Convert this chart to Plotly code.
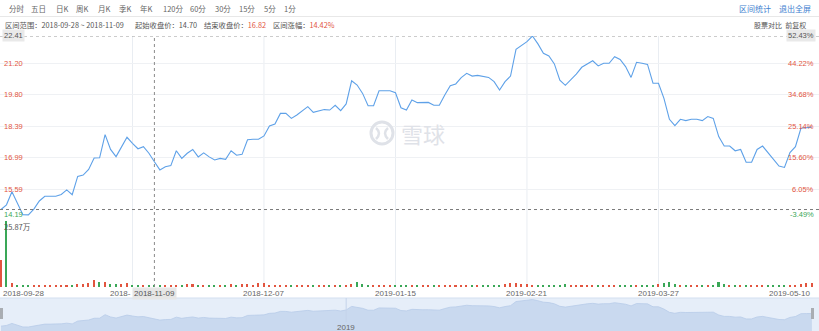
import plotly.graph_objects as go

W, H = 819, 331

# ---------------- data ----------------
prices = [
    14.70, 14.91, 15.49, 14.97, 14.47, 14.46, 14.72, 15.08, 15.29, 15.29,
    15.29, 15.37, 15.57, 15.36, 16.17, 16.23, 16.48, 16.99, 17.00, 18.03,
    17.37, 17.05, 17.49, 17.91, 17.64, 17.40, 17.49, 17.20, 16.82, 16.46,
    16.60, 16.65, 17.31, 16.97, 17.20, 17.37, 17.04, 17.22, 17.04, 16.90,
    16.97, 16.93, 17.31, 17.11, 17.15, 17.80, 17.82, 17.82, 17.97, 18.41,
    18.50, 18.97, 18.97, 18.75, 18.90, 19.09, 19.27, 19.02, 19.09, 19.14,
    19.12, 19.33, 19.09, 19.39, 20.42, 20.23, 19.86, 19.31, 19.31, 19.98,
    19.98, 19.98, 19.89, 19.22, 19.12, 19.57, 19.45, 19.45, 19.46, 19.33,
    19.33, 19.79, 20.20, 20.28, 20.56, 20.75, 20.63, 20.66, 20.63, 20.57,
    20.38, 20.01, 20.38, 20.63, 21.82, 21.98, 22.16, 22.41, 22.06, 21.64,
    21.52, 21.17, 20.45, 20.22, 20.45, 20.72, 21.02, 21.17, 21.31, 21.08,
    21.20, 21.20, 21.49, 21.37, 21.05, 20.57, 21.24, 21.20, 21.15, 20.31,
    20.31, 19.64, 18.71, 18.43, 18.71, 18.65, 18.71, 18.71, 18.65, 18.83,
    18.75, 17.94, 17.52, 17.52, 17.31, 17.37, 16.80, 16.80, 17.37, 17.52,
    17.23, 16.93, 16.63, 16.57, 17.23, 17.49, 18.31, 18.34, 18.36,
]

# volume in 万 shares
volumes = [
    10.6, 25.87, 1.6, 0.5, 0.6, 0.4, 0.5, 0.6, 0.5, 0.6,
    0.5, 0.6, 0.5, 0.7, 1.0, 1.2, 1.5, 2.8, 2.0, 2.0,
    1.2, 1.2, 1.2, 1.5, 0.5, 0.4, 0.5, 0.4, 0.6, 0.5,
    0.6, 0.5, 0.7, 0.6, 1.0, 1.0, 0.6, 0.5, 0.7, 0.6,
    0.5, 0.7, 1.2, 0.6, 1.0, 1.2, 0.8, 1.6, 1.4, 0.9,
    0.6, 0.8, 0.7, 0.6, 0.8, 0.6, 0.5, 0.7, 0.6, 0.5,
    0.6, 0.5, 0.8, 0.9, 1.2, 1.8, 1.2, 0.7, 0.6, 0.6,
    0.5, 0.6, 0.5, 0.6, 0.7, 0.6, 0.5, 0.6, 0.5, 0.6,
    0.5, 0.7, 0.8, 0.6, 0.7, 0.6, 0.5, 0.6, 0.5, 0.6,
    0.5, 0.7, 1.0, 1.4, 1.6, 1.2, 1.0, 0.8, 0.9, 0.7,
    0.6, 0.5, 0.8, 1.2, 0.6, 0.5, 0.6, 0.7, 0.6, 0.5,
    0.6, 0.5, 0.6, 0.5, 0.7, 0.8, 0.6, 0.5, 0.6, 0.9,
    1.0, 1.4, 2.0, 1.2, 0.8, 0.7, 0.6, 0.7, 0.6, 0.5,
    0.6, 1.8, 1.2, 0.8, 0.7, 0.6, 0.8, 0.7, 0.6, 0.5,
    0.6, 0.7, 0.8, 0.6, 0.7, 0.9, 1.2, 1.5, 1.4,
]

# day direction (1 = up / red, 0 = down / green), as coloured in the picture
day_up = [1 if i == 0 or prices[i] >= prices[i - 1] else 0 for i in range(len(prices))]
day_up[1] = 0
day_up[18] = 0

first_date = "2018-09-28"
last_date = "2019-05-10"
grid_idx = [24, 48, 72, 96, 120]
grid_dates = ["2018-11-05", "2018-12-07", "2019-01-15", "2019-02-21", "2019-03-27"]
sel_idx = 28
sel_date = "2018-11-09"
year_idx = 63
year_label = "2019"

price_ticks = [14.19, 15.59, 16.99, 18.39, 19.80, 21.20, 22.41]
pct_ticks = ["-3.49%", "6.05%", "15.60%", "25.14%", "34.68%", "44.22%", "52.43%"]
base_price = 14.70
end_price = 16.82
range_pct = "14.42%"
vol_max_label = "25.87万"

tabs = ["分时", "五日", "日K", "周K", "月K", "季K", "年K", "120分", "60分", "30分", "15分", "5分", "1分"]

# ---------------- style ----------------
RED = "#e2553f"
GREEN = "#3aa757"
LINE = "#5ea1e8"
GRAY = "#666666"
FONT = "Liberation Sans, Arial, Noto Sans CJK SC"
CJK = "Noto Sans CJK SC, Liberation Sans"


def py(p):
    return 1 - p / H


def px(p):
    return p / W


n = len(prices)
xs = list(range(n))
bar_colors = [RED if u else GREEN for u in day_up]

fig = go.Figure()
fig.add_trace(go.Scatter(x=xs, y=prices, mode="lines", line=dict(color=LINE, width=1.1),
                         yaxis="y", hoverinfo="skip"))
fig.add_trace(go.Bar(x=xs, y=volumes, marker=dict(color=bar_colors, line=dict(width=0)),
                     width=0.28, yaxis="y2", hoverinfo="skip"))
fig.add_trace(go.Scatter(x=xs, y=prices, mode="lines", fill="tozeroy",
                         fillcolor="#c9d9ef", line=dict(color="#b8cce8", width=0.8),
                         yaxis="y3", hoverinfo="skip"))

shapes = []
annotations = []

# header separator
shapes.append(dict(type="line", xref="paper", yref="paper", x0=0, x1=1, y0=py(16.5), y1=py(16.5),
                   line=dict(color="#e8e8e8", width=1)))
# navigator background
shapes.append(dict(type="rect", xref="paper", yref="paper", x0=0, x1=1, y0=0, y1=py(298),
                   fillcolor="#e6eef9", line=dict(width=0), layer="below"))
shapes.append(dict(type="line", xref="paper", yref="paper", x0=0, x1=1, y0=py(298), y1=py(298),
                   line=dict(color="#d3dff0", width=1)))
# vertical grid
for gi in grid_idx:
    shapes.append(dict(type="line", xref="x", yref="paper", x0=gi, x1=gi, y0=py(287), y1=py(36),
                       line=dict(color="#e9edf2", width=1), layer="below"))
# year divider in navigator
shapes.append(dict(type="line", xref="x", yref="paper", x0=year_idx, x1=year_idx, y0=py(322), y1=py(298),
                   line=dict(color="#c4d3ea", width=1)))
# base and max dotted lines
shapes.append(dict(type="line", xref="paper", yref="y", x0=0, x1=1, y0=max(price_ticks), y1=max(price_ticks),
                   line=dict(color="#9a9a9a", width=1, dash="dot")))
shapes.append(dict(type="line", xref="paper", yref="y", x0=0, x1=1, y0=base_price, y1=base_price,
                   line=dict(color="#7a7a7a", width=1, dash="dot")))
shapes.append(dict(type="line", xref="x", yref="paper", x0=sel_idx, x1=sel_idx, y0=py(287), y1=py(36),
                   line=dict(color="#8a8a8a", width=1, dash="dot")))
# navigator handles
for hx in (1.5, 812.5):
    shapes.append(dict(type="rect", xref="paper", yref="paper", x0=px(hx - 1.5), x1=px(hx + 1.5),
                       y0=py(319), y1=py(308), fillcolor="#a9adb3", line=dict(width=0)))
# watermark logo
shapes.append(dict(type="circle", xref="paper", yref="paper", x0=px(371), x1=px(393), y0=py(144), y1=py(122),
                   line=dict(color="#dfe2e8", width=3)))
shapes.append(dict(type="path", xref="paper", yref="paper",
                   path=f"M {px(376)} {py(128)} Q {px(382)} {py(133)} {px(376)} {py(139)} "
                        f"M {px(388)} {py(128)} Q {px(382)} {py(133)} {px(388)} {py(139)}",
                   line=dict(color="#dfe2e8", width=2.5)))
annotations.append(dict(xref="paper", yref="paper", x=px(399), y=py(133), xanchor="left", yanchor="middle",
                        text="雪球", showarrow=False, font=dict(family=CJK, size=22, color="#dfe2e8")))

# price labels (left) and percentage labels (right)
for i, (p, t) in enumerate(zip(price_ticks, pct_ticks)):
    top = i == len(price_ticks) - 1
    bottom = p < base_price
    col = "#555555" if top else (GREEN if bottom else RED)
    bg = "#e9e9e9" if top else "rgba(255,255,255,0)"
    ya = "bottom" if bottom else "middle"
    annotations.append(dict(xref="paper", yref="y", x=px(2), y=p, xanchor="left", yanchor=ya,
                            text=f"{p:.2f}", showarrow=False, bgcolor=bg, borderpad=1,
                            font=dict(family=FONT, size=7.5, color=col)))
    annotations.append(dict(xref="paper", yref="y", x=px(816), y=p, xanchor="right", yanchor=ya,
                            text=t, showarrow=False, bgcolor=bg, borderpad=1,
                            font=dict(family=FONT, size=7.5, color=col)))

# volume max label
annotations.append(dict(xref="paper", yref="paper", x=px(2), y=py(226), xanchor="left", yanchor="middle",
                        text=vol_max_label, showarrow=False,
                        font=dict(family=CJK, size=7.5, color="#555555")))

# x date labels
DY = py(293)
annotations.append(dict(xref="x", yref="paper", x=0, y=DY, xanchor="left", yanchor="middle",
                        text=first_date, showarrow=False, font=dict(family=FONT, size=8, color=GRAY)))
for k, (gi, gd) in enumerate(zip(grid_idx, grid_dates)):
    if k == 0:
        # this label sits under the highlighted selection label: only its start shows
        annotations.append(dict(xref="paper", yref="paper", x=px(133), y=DY, xanchor="right",
                                yanchor="middle", text=gd[:5], showarrow=False,
                                font=dict(family=FONT, size=8, color=GRAY)))
        continue
    annotations.append(dict(xref="x", yref="paper", x=gi, y=DY, xanchor="center", yanchor="middle",
                            text=gd, showarrow=False, font=dict(family=FONT, size=8, color=GRAY)))
annotations.append(dict(xref="x", yref="paper", x=sel_idx, y=DY, xanchor="center", yanchor="middle",
                        text=sel_date, showarrow=False, bgcolor="#e6e6e6", borderpad=1,
                        font=dict(family=FONT, size=8, color="#555555")))
annotations.append(dict(xref="x", yref="paper", x=n - 1, y=DY, xanchor="right", yanchor="middle",
                        text=last_date, showarrow=False, font=dict(family=FONT, size=8, color=GRAY)))
annotations.append(dict(xref="x", yref="paper", x=year_idx, y=py(327), xanchor="center", yanchor="middle",
                        text=year_label, showarrow=False, font=dict(family=FONT, size=8, color=GRAY)))

# header row 1 tabs
tab_x = [6.7, 29, 54, 74, 95.7, 116.7, 138, 160.7, 188, 213, 237, 261.7, 281.7]
for t, tx in zip(tabs, tab_x):
    annotations.append(dict(xref="paper", yref="paper", x=px(tx), y=py(9), xanchor="left", yanchor="middle",
                            text=t, showarrow=False, font=dict(family=CJK, size=7.5, color=GRAY)))
annotations.append(dict(xref="paper", yref="paper", x=px(737), y=py(9), xanchor="left", yanchor="middle",
                        text="区间统计", showarrow=False, font=dict(family=CJK, size=8, color="#3f7fd0")))
annotations.append(dict(xref="paper", yref="paper", x=px(777), y=py(9), xanchor="left", yanchor="middle",
                        text="退出全屏", showarrow=False, font=dict(family=CJK, size=8, color="#3f7fd0")))

# header row 2
R2 = py(25)
row2 = [
    (2.5, f"区间范围：{first_date} ~ {sel_date}"),
    (133, f"起始收盘价：{base_price:.2f}"),
    (202, f"结束收盘价：<span style='color:{RED}'>{end_price:.2f}</span>"),
    (271, f"区间涨幅：<span style='color:{RED}'>{range_pct}</span>"),
]
for rx, rt in row2:
    annotations.append(dict(xref="paper", yref="paper", x=px(rx), y=R2, xanchor="left", yanchor="middle",
                            text=rt, showarrow=False,
                            font=dict(family=CJK, size=7.3, color="#555555")))
annotations.append(dict(xref="paper", yref="paper", x=px(808), y=R2, xanchor="right", yanchor="middle",
                        text="股票对比  前复权", showarrow=False,
                        font=dict(family=CJK, size=7, color="#555555")))

xr = [-0.18, 149.3]
fig.update_layout(
    width=W, height=H, margin=dict(l=0, r=0, t=0, b=0),
    paper_bgcolor="white", plot_bgcolor="rgba(0,0,0,0)",
    showlegend=False, bargap=0,
    xaxis=dict(range=xr, visible=False, fixedrange=True, anchor="y3"),
    yaxis=dict(domain=[py(221), py(36)], range=[min(price_ticks), max(price_ticks)],
               tickvals=price_ticks, showticklabels=False, showgrid=True, gridcolor="#eff1f4",
               gridwidth=1, zeroline=False, showline=False, ticks="", anchor="x"),
    yaxis2=dict(domain=[py(287), py(221)], range=[0, 25.87], visible=False, anchor="x"),
    yaxis3=dict(domain=[0, py(298)], range=[13.3, 22.85], visible=False, anchor="x"),
    shapes=shapes, annotations=annotations,
)

fig.write_html("out.html")
